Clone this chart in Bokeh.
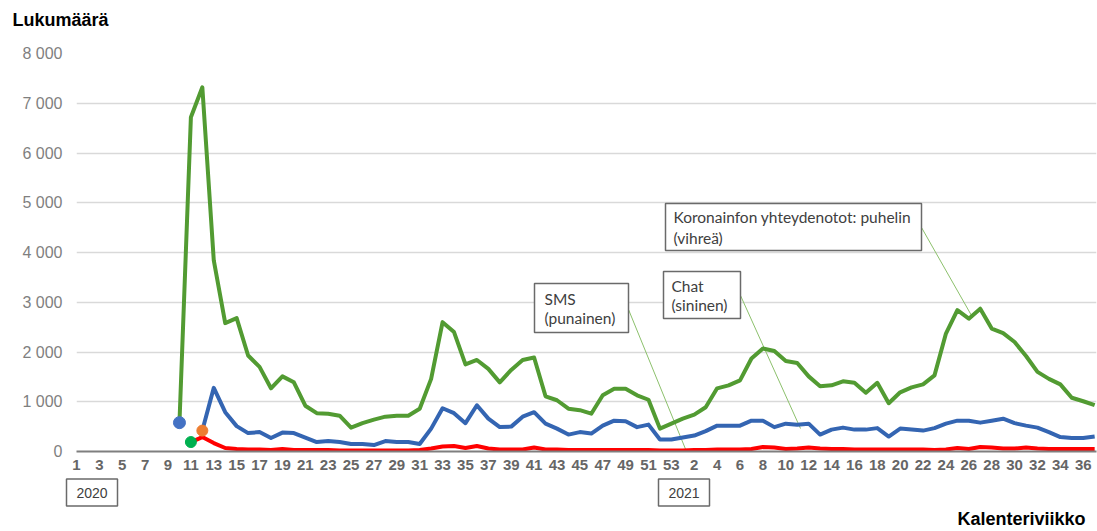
from bokeh.plotting import figure
from bokeh.layouts import column
from bokeh.models import Range1d, FixedTicker, Label, BoxAnnotation
from bokeh.embed import file_html
from bokeh.resources import INLINE

# ---------------- data ----------------
weeks_2020 = list(range(1, 54))
weeks_2021 = list(range(1, 38))
year_labels = ["2020", "2021"]

# Koronainfon yhteydenotot: puhelin (green), from 2020 week 10
phone_start = (2020, 10)
phone = [580, 6720, 7320, 3840, 2580, 2680, 1930, 1700, 1270, 1510,
         1390, 920, 770, 760, 720, 480, 570, 640, 700, 720,
         720, 860, 1460, 2600, 2400, 1750, 1840, 1660, 1390, 1640,
         1840, 1890, 1110, 1030, 860, 830, 760, 1130, 1260, 1260,
         1130, 1040, 460, 560,
         660, 740, 890, 1270, 1330, 1430, 1870, 2070, 2020, 1820,
         1780, 1510, 1310, 1330, 1410, 1380, 1180, 1380, 970, 1190,
         1290, 1350, 1530, 2370, 2840, 2670, 2870, 2470, 2380, 2200,
         1920, 1600, 1460, 1350, 1080, 1010, 930]

# Chat (blue), from 2020 week 12
chat_start = (2020, 12)
chat = [420, 1280, 790, 510, 370, 390, 270, 380, 370,
        280, 190, 210, 190, 150, 150, 130, 210, 190, 190,
        150, 460, 870, 770, 570, 930, 660, 490, 500, 700,
        790, 560, 460, 340, 390, 360, 520, 620, 610, 490,
        540, 240, 240,
        280, 320, 410, 520, 520, 520, 620, 620, 490, 560,
        540, 560, 340, 440, 480, 440, 440, 470, 300, 460,
        440, 420, 470, 560, 620, 620, 580, 620, 660, 570,
        520, 480, 390, 290, 270, 270, 300]

# SMS (red), from 2020 week 11
sms_start = (2020, 11)
sms = [190, 290, 170, 70, 50, 40, 40, 30, 50,
       30, 30, 30, 30, 20, 20, 20, 20, 20, 20,
       20, 30, 60, 100, 110, 70, 110, 60, 40, 40,
       40, 80, 40, 40, 30, 30, 30, 30, 30, 30,
       30, 30, 20, 20,
       20, 30, 30, 40, 40, 40, 50, 90, 80, 50,
       60, 80, 60, 50, 50, 40, 40, 40, 40, 40,
       40, 40, 30, 40, 70, 50, 90, 80, 60, 60,
       80, 60, 50, 50, 50, 50, 50]

y_ticks = [0, 1000, 2000, 3000, 4000, 5000, 6000, 7000, 8000]

periods = [(2020, w) for w in weeks_2020] + [(2021, w) for w in weeks_2021]
pos = {pr: i for i, pr in enumerate(periods)}


def xs_for(start, vals):
    i0 = pos[start]
    return list(range(i0, i0 + len(vals)))


# ---------------- geometry (page px) ----------------
W = 1097
TOP_H, MAIN_H, BOT_H = 40, 437, 54          # stacked strips, total 531
FRAME_L, FRAME_R, FRAME_T, FRAME_B = 76, 1096, 53, 451
STEP = 11.44


def sx(px):
    return (px - FRAME_L) / STEP


def sy(py):
    return (FRAME_B - py) * 8000 / (FRAME_B - FRAME_T)


def strip(h, y0):
    f = figure(width=W, height=h, output_backend="svg", toolbar_location=None,
               title=None, x_range=Range1d(0, W), y_range=Range1d(y0 + h, y0),
               min_border=0, x_axis_type=None, y_axis_type=None)
    f.frame_align = False
    f.outline_line_color = None
    f.background_fill_color = "white"
    f.border_fill_color = "white"
    f.xgrid.visible = False
    f.ygrid.visible = False
    return f


BOX_LINE = "#6A6A6A"
TXT = "#404040"

# ---- top strip: y-axis title ----
top = strip(TOP_H, 0)
top.add_layout(Label(x=12, y=19.5, text="Lukumäärä", text_font="Liberation Sans",
                     text_font_size="18px", text_font_style="bold", text_color="#000000",
                     text_align="left", text_baseline="middle"))

# ---- main chart ----
p = figure(width=W, height=MAIN_H, output_backend="svg", toolbar_location=None,
           x_range=Range1d(0, (FRAME_R - FRAME_L) / STEP), y_range=Range1d(0, 8000),
           min_border_left=FRAME_L, min_border_right=W - FRAME_R,
           min_border_top=FRAME_T - TOP_H, min_border_bottom=TOP_H + MAIN_H - FRAME_B)
p.frame_align = False
p.outline_line_color = None
p.background_fill_color = "white"
p.border_fill_color = "white"

xa = p.xaxis[0]
tick_pos = [pos[(2020, w)] for w in weeks_2020 if w % 2 == 1] + \
           [pos[(2021, w)] for w in weeks_2021 if w % 2 == 0 and w <= 36]
xa.ticker = FixedTicker(ticks=tick_pos)
xa.major_label_overrides = {i: str(periods[i][1]) for i in tick_pos}
xa.major_tick_line_color = None
xa.minor_tick_line_color = None
xa.major_tick_out = 0
xa.major_tick_in = 0
xa.axis_line_color = "#7F7F7F"
xa.axis_line_width = 2
xa.major_label_text_font = "Liberation Sans"
xa.major_label_text_font_size = "15px"
xa.major_label_text_font_style = "bold"
xa.major_label_text_color = "#666666"
xa.major_label_standoff = 8

ya = p.yaxis[0]
ya.ticker = FixedTicker(ticks=y_ticks)
ya.major_label_overrides = {t: f"{t:,}".replace(",", " ") for t in y_ticks}
ya.axis_line_color = None
ya.major_tick_line_color = None
ya.minor_tick_line_color = None
ya.major_tick_out = 0
ya.major_tick_in = 0
ya.major_label_text_font = "Liberation Sans"
ya.major_label_text_font_size = "16px"
ya.major_label_text_color = "#7F7F7F"
ya.major_label_standoff = 14

p.xgrid.grid_line_color = None
p.ygrid.ticker = FixedTicker(ticks=y_ticks[1:])
p.ygrid.grid_line_color = "#D9D9D9"
p.ygrid.grid_line_width = 1.5

# leader lines from the callout boxes
leader_color = "#8CC06C"
p.segment(x0=[sx(921), sx(628), sx(740)], y0=[sy(227), sy(309), sy(295)],
          x1=[sx(971), sx(686), sx(800)], y1=[sy(315), sy(451), sy(428)],
          line_color=leader_color, line_width=1)

GREEN, BLUE, RED = "#529B32", "#3465B2", "#FF0000"
p.line(xs_for(phone_start, phone), phone, line_color=GREEN, line_width=4, line_join="round")
p.line(xs_for(chat_start, chat), chat, line_color=BLUE, line_width=4, line_join="round")
p.line(xs_for(sms_start, sms), sms, line_color=RED, line_width=4, line_join="round")

p.scatter([pos[phone_start]], [phone[0]], size=12, color="#4472C4")
p.scatter([pos[sms_start]], [sms[0]], size=11, color="#00B050")
p.scatter([pos[chat_start]], [chat[0]], size=11, color="#ED7D31")

boxes = [(665, 921, 203, 250), (534, 628, 283, 332), (663, 740, 271, 318)]
for (l, r, t, b) in boxes:
    p.add_layout(BoxAnnotation(left=sx(l), right=sx(r), top=sy(t), bottom=sy(b),
                               fill_color="white", fill_alpha=1.0,
                               line_color=BOX_LINE, line_width=1.5, line_alpha=1.0))

ann_lines = [
    ("Koronainfon yhteydenotot: puhelin", 673, 216.5),
    ("(vihreä)", 673, 237.5),
    ("SMS", 544, 298),
    ("(punainen)", 544, 317),
    ("Chat", 671, 285),
    ("(sininen)", 671, 304),
]
for txt, px, py in ann_lines:
    p.add_layout(Label(x=sx(px), y=sy(py), text=txt, text_font="Lato",
                       text_font_size="15.5px", text_color=TXT,
                       text_align="left", text_baseline="middle"))

# ---- bottom strip: year boxes and x-axis title ----
bot = strip(BOT_H, TOP_H + MAIN_H)
for yl, (l, r) in zip(year_labels, [(66, 117), (658, 709)]):
    bot.add_layout(BoxAnnotation(left=l, right=r, top=478.5, bottom=505.5,
                                 fill_color="white", fill_alpha=1.0,
                                 line_color=BOX_LINE, line_width=1.5, line_alpha=1.0))
    bot.add_layout(Label(x=(l + r) / 2, y=492, text=yl, text_font="Liberation Sans",
                         text_font_size="14px", text_color=TXT,
                         text_align="center", text_baseline="middle"))
bot.add_layout(Label(x=1085, y=518, text="Kalenteriviikko", text_font="Liberation Sans",
                     text_font_size="18px", text_font_style="bold", text_color="#000000",
                     text_align="right", text_baseline="middle"))

layout = column(top, p, bot, spacing=0)
open("out.html", "w").write(file_html(layout, INLINE))
